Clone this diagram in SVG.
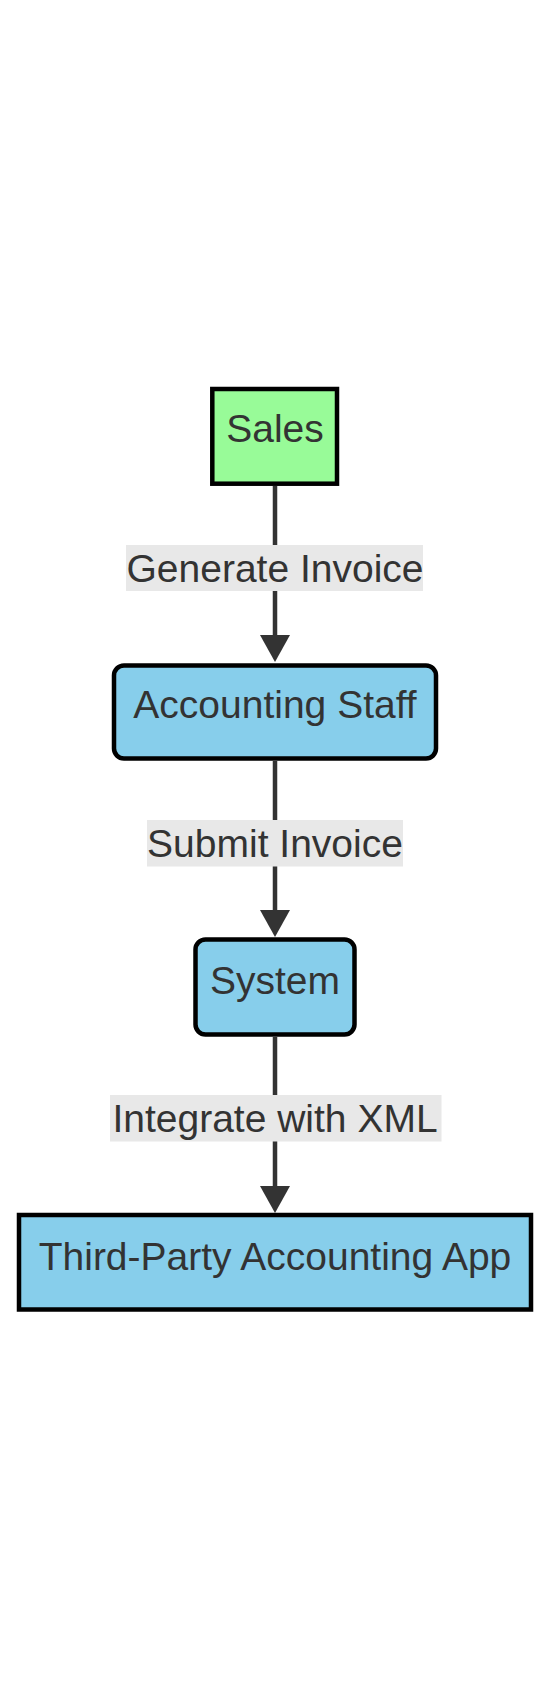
<svg xmlns="http://www.w3.org/2000/svg" width="550" height="1699" viewBox="0 0 550 1699">
<style>
.node rect{stroke:#000;stroke-width:4.5px}
.green{fill:#98FB98}
.blue{fill:#87CEEB}
text{font-family:"Liberation Sans",Arial,sans-serif;font-size:39px;fill:#333;text-anchor:middle}
.edge{stroke:#333;stroke-width:4.5px;fill:none}
.lblbg{fill:#e8e8e8}
</style>
<defs>
<marker id="arrow" viewBox="0 0 27 30" markerWidth="27" markerHeight="30" refX="5" refY="15" markerUnits="userSpaceOnUse" orient="auto">
<path d="M0,0 L27,15 L0,30 z" fill="#333"/>
</marker>
</defs>
<rect width="550" height="1699" fill="#ffffff"/>
<g id="connectors">
<path class="edge" d="M275,486 V640" marker-end="url(#arrow)"/>
<path class="edge" d="M275,761 V915" marker-end="url(#arrow)"/>
<path class="edge" d="M275,1037 V1191" marker-end="url(#arrow)"/>
<g id="label-generate">
<rect class="lblbg" x="126" y="545" width="297" height="46"/>
<text x="275" y="581.5">Generate Invoice</text>
</g>
<g id="label-submit">
<rect class="lblbg" x="147" y="820" width="256" height="46.5"/>
<text x="275" y="856.5">Submit Invoice</text>
</g>
<g id="label-integrate">
<rect class="lblbg" x="110" y="1095" width="331.5" height="46.5"/>
<text x="275" y="1131.5">Integrate with XML</text>
</g>
</g>
<g id="node-sales" class="node">
<rect class="green" x="212.3" y="389" width="124.7" height="94.7"/>
<text x="275" y="442">Sales</text>
</g>
<g id="node-accounting-staff" class="node">
<rect class="blue" x="114" y="665.5" width="322" height="93" rx="10" ry="10"/>
<text x="275" y="718">Accounting Staff</text>
</g>
<g id="node-system" class="node">
<rect class="blue" x="195.5" y="939.5" width="159" height="95" rx="10" ry="10"/>
<text x="275" y="994">System</text>
</g>
<g id="node-third-party" class="node">
<rect class="blue" x="19" y="1215" width="512" height="94.5"/>
<text x="275" y="1270">Third-Party Accounting App</text>
</g>
</svg>
